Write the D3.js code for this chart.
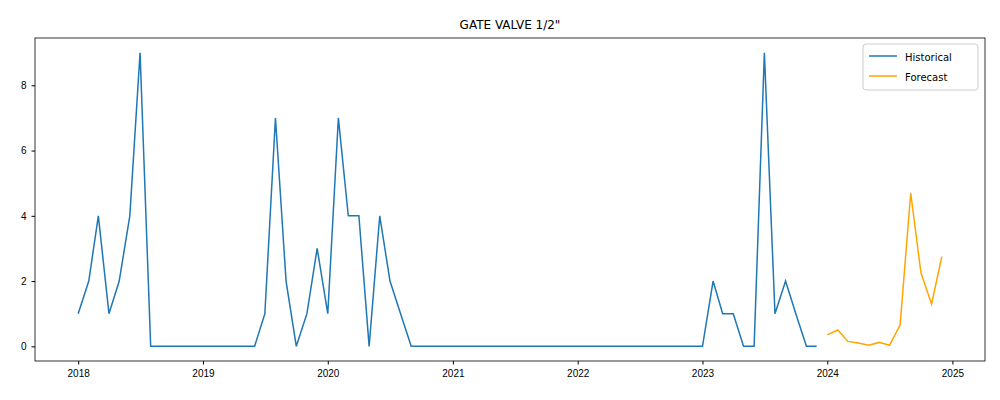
<!DOCTYPE html>
<html><head><meta charset="utf-8">
<script src="https://cdn.jsdelivr.net/npm/d3@7"></script>
<style>body{margin:0;background:#fff}svg{font-family:"DejaVu Sans",sans-serif}</style>
</head><body><svg width="1000" height="400"></svg>
<script>
// historical monthly values, Jan 2018 .. Dec 2023
var histValues = [1,2,4,1,2,4,9,0,0,0,0,0,
  0,0,0,0,0,0,1,7,2,0,1,3,
  1,7,4,4,0,4,2,1,0,0,0,0,
  0,0,0,0,0,0,0,0,0,0,0,0,
  0,0,0,0,0,0,0,0,0,0,0,0,
  0,2,1,1,0,0,9,1,2,1,0,0];
// forecast monthly values, Jan 2024 .. Dec 2024
var fcValues = [0.35,0.5,0.15,0.1,0.03,0.12,0.03,0.65,4.7,2.25,1.3,2.75];
var yTicks = [0,2,4,6,8];
var xTickYears = [2018,2019,2020,2021,2022,2023,2024,2025];

var hist = histValues.map((v,i) => ({d: new Date(2018, i, 1), v: v}));
var fc = fcValues.map((v,i) => ({d: new Date(2024, i, 1), v: v}));

var svg = d3.select("svg");
var L = 35, R = 985, T = 38, B = 361;
var t0 = +hist[0].d, t1 = +fc[fc.length-1].d, pad = (t1 - t0) * 0.05;
var x = d3.scaleTime().domain([new Date(t0 - pad), new Date(t1 + pad)]).range([L, R]);
var y = d3.scaleLinear().domain([-0.45, 9.45]).range([B, T]);

var xa = svg.append("g").attr("transform", `translate(0,${B})`)
  .call(d3.axisBottom(x).tickValues(xTickYears.map(yr => new Date(yr,0,1))).tickFormat(d3.timeFormat("%Y")).tickSize(3.5).tickPadding(5));
var ya = svg.append("g").attr("transform", `translate(${L},0)`)
  .call(d3.axisLeft(y).tickValues(yTicks).tickSize(3.5).tickPadding(5));
[xa, ya].forEach(a => { a.select(".domain").remove(); a.selectAll("text").attr("font-size", 10).attr("fill", "#000"); });

var line = d3.line().x(p => x(p.d)).y(p => y(p.v));
svg.append("path").datum(hist).attr("d", line).attr("fill", "none").attr("stroke", "#1f77b4").attr("stroke-width", 1.5);
svg.append("path").datum(fc).attr("d", line).attr("fill", "none").attr("stroke", "orange").attr("stroke-width", 1.5);

svg.append("rect").attr("x", L).attr("y", T).attr("width", R-L).attr("height", B-T)
  .attr("fill", "none").attr("stroke", "#000").attr("stroke-width", 0.8);

svg.append("text").attr("x", (L+R)/2).attr("y", 29).attr("text-anchor", "middle").attr("font-size", 12).text('GATE VALVE 1/2"');

// legend
var lg = svg.append("g").attr("transform", "translate(863,44)");
lg.append("rect").attr("width", 115).attr("height", 46).attr("rx", 3).attr("fill", "#fff").attr("stroke", "#ccc");
[["Historical","#1f77b4"],["Forecast","orange"]].forEach((s,i) => {
  lg.append("line").attr("x1", 6).attr("x2", 34).attr("y1", 12+i*20).attr("y2", 12+i*20).attr("stroke", s[1]).attr("stroke-width", 1.5);
  lg.append("text").attr("x", 42).attr("y", 16.5+i*20).attr("font-size", 10).text(s[0]);
});
</script></body></html>
